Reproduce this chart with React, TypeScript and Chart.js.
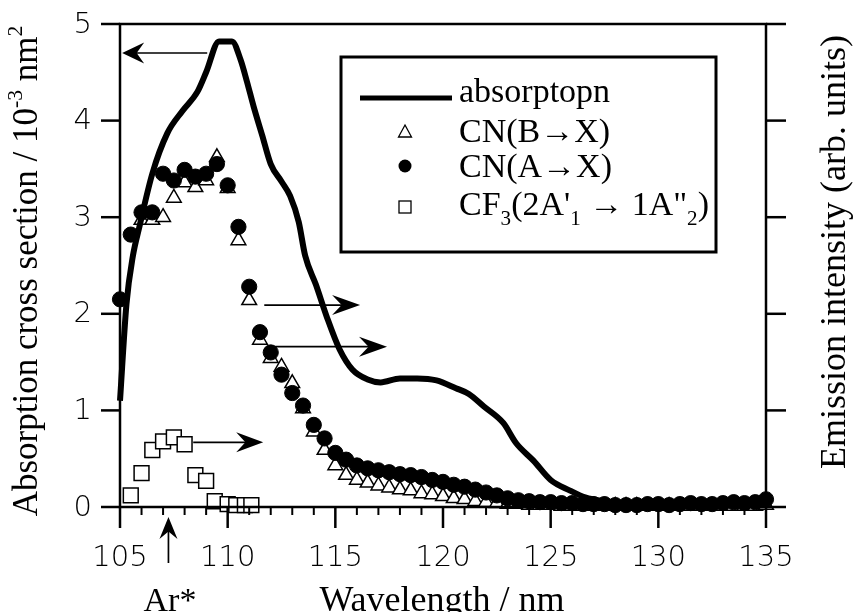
import React, { useEffect, useRef } from "react";
import { Chart, registerables } from "chart.js";

Chart.register(...registerables);

// ---------------- data ----------------
const absWavelength = [
  105.0, 105.3, 105.6, 105.9, 106.5, 107.2, 107.9, 108.6, 109.0, 109.6,
  110.2, 110.6, 110.9, 111.2, 111.6, 112.0, 112.5, 112.9, 113.3, 113.6,
  114.1, 114.6, 115.2, 115.8, 116.5, 117.1, 118.0, 118.8, 119.7, 120.6,
  121.2, 121.9, 122.8, 123.4, 124.2, 125.0, 125.9, 126.6, 127.5, 128.5,
  130.0, 132.0, 135.0,
];
const absCross = [
  1.1, 2.1, 2.6, 2.9, 3.45, 3.87, 4.1, 4.3, 4.5, 4.82,
  4.82, 4.63, 4.4, 4.15, 3.85, 3.55, 3.37, 3.22, 2.95, 2.6,
  2.3, 1.97, 1.63, 1.42, 1.32, 1.29, 1.33, 1.33, 1.31, 1.23,
  1.17, 1.04, 0.87, 0.66, 0.48, 0.28, 0.17, 0.1, 0.06, 0.04,
  0.03, 0.03, 0.04,
];

const cnAXWavelength = [
  105.0, 105.5, 106.0, 106.5, 107.0, 107.5, 108.0, 108.5, 109.0, 109.5,
  110.0, 110.5, 111.0, 111.5, 112.0, 112.5, 113.0, 113.5, 114.0, 114.5,
  115.0, 115.5, 116.0, 116.5, 117.0, 117.5, 118.0, 118.5, 119.0, 119.5,
  120.0, 120.5, 121.0, 121.5, 122.0, 122.5, 123.0, 123.5, 124.0, 124.5,
  125.0, 125.5, 126.0, 126.5, 127.0, 127.5, 128.0, 128.5, 129.0, 129.5,
  130.0, 130.5, 131.0, 131.5, 132.0, 132.5, 133.0, 133.5, 134.0, 134.5,
  135.0,
];
const cnAXIntensity = [
  2.15, 2.82, 3.05, 3.05, 3.45, 3.38, 3.49, 3.42, 3.45, 3.55,
  3.33, 2.9, 2.28, 1.81, 1.6, 1.37, 1.18, 1.05, 0.85, 0.71,
  0.56, 0.49, 0.43, 0.4, 0.38, 0.36, 0.34, 0.33, 0.31, 0.28,
  0.26, 0.23, 0.21, 0.18, 0.15, 0.12, 0.09, 0.07, 0.06, 0.05,
  0.05, 0.04, 0.04, 0.03, 0.03, 0.03, 0.02, 0.02, 0.02, 0.03,
  0.03, 0.02, 0.03, 0.04, 0.03, 0.03, 0.04, 0.05, 0.04, 0.05,
  0.08,
];

const cnBXWavelength = [
  106.0, 106.5, 107.0, 107.5, 108.0, 108.5, 109.0, 109.5,
  110.0, 110.5, 111.0, 111.5, 112.0, 112.5, 113.0, 113.5, 114.0, 114.5,
  115.0, 115.5, 116.0, 116.5, 117.0, 117.5, 118.0, 118.5, 119.0, 119.5,
  120.0, 120.5, 121.0, 121.5, 122.0, 122.5, 123.0, 123.5, 124.0, 124.5,
  125.0, 125.5, 126.0, 126.5, 127.0, 127.5, 128.0, 128.5, 129.0, 129.5,
  130.0, 130.5, 131.0, 131.5, 132.0, 132.5, 133.0, 133.5, 134.0, 134.5,
  135.0,
];
const cnBXIntensity = [
  2.97, 2.97, 3.0, 3.2, 3.36, 3.31, 3.38, 3.62,
  3.3, 2.76, 2.14, 1.73, 1.54, 1.45, 1.28, 1.02, 0.78, 0.59,
  0.43, 0.33, 0.28, 0.25, 0.22, 0.2, 0.18, 0.17, 0.14, 0.13,
  0.11, 0.09, 0.08, 0.06, 0.05, 0.04, 0.03, 0.03, 0.02, 0.02,
  0.02, 0.01, 0.01, 0.01, 0.01, 0.01, 0.01, 0.01, 0.01, 0.01,
  0.01, 0.01, 0.01, 0.01, 0.01, 0.01, 0.01, 0.01, 0.01, 0.01,
  0.02,
];

const cf3Wavelength = [
  105.5, 106.0, 106.5, 107.0, 107.5, 108.0, 108.5, 109.0, 109.4,
  110.0, 110.4, 110.8, 111.1,
];
const cf3Intensity = [
  0.12, 0.35, 0.59, 0.68, 0.72, 0.65, 0.33, 0.27, 0.06,
  0.03, 0.02, 0.02, 0.02,
];

const xTickValues = [105, 110, 115, 120, 125, 130, 135];
const yTickValues = [0, 1, 2, 3, 4, 5];

// arrows in data coordinates: [x1, y1, x2, y2]
const arrowAbsorption = [109.05, 4.7, 105.1, 4.7];
const arrowBX = [111.7, 2.09, 116.15, 2.09];
const arrowAX = [111.85, 1.66, 117.4, 1.66];
const arrowCF3 = [108.4, 0.67, 111.65, 0.67];
const arMarkerWavelength = 107.25;

const SERIF = '"Liberation Serif", "Times New Roman", serif';
const SANS = '"DejaVu Sans", sans-serif';

function toXY(xs: number[], ys: number[]) {
  return xs.map((x, i) => ({ x, y: ys[i] }));
}

function drawArrow(
  ctx: CanvasRenderingContext2D,
  x1: number, y1: number, x2: number, y2: number,
  len: number, hw: number
) {
  const ang = Math.atan2(y2 - y1, x2 - x1);
  ctx.save();
  ctx.lineWidth = 1.7;
  ctx.beginPath();
  ctx.moveTo(x1, y1);
  ctx.lineTo(x2 - Math.cos(ang) * len * 0.6, y2 - Math.sin(ang) * len * 0.6);
  ctx.stroke();
  ctx.translate(x2, y2);
  ctx.rotate(ang);
  ctx.beginPath();
  ctx.moveTo(0, 0);
  ctx.lineTo(-len, -hw);
  ctx.lineTo(-len * 0.66, 0);
  ctx.lineTo(-len, hw);
  ctx.closePath();
  ctx.fill();
  ctx.restore();
}

type Seg = { t: string; sub?: boolean; sup?: boolean };

function drawSegs(ctx: CanvasRenderingContext2D, segs: Seg[], x: number, y: number, size: number, center: boolean) {
  const small = size * 0.62;
  const widths = segs.map((s) => {
    ctx.font = `${s.sub || s.sup ? small : size}px ${SERIF}`;
    return ctx.measureText(s.t).width;
  });
  const total = widths.reduce((a, b) => a + b, 0);
  let cx = center ? x - total / 2 : x;
  ctx.textAlign = "left";
  ctx.textBaseline = "alphabetic";
  segs.forEach((s, i) => {
    ctx.font = `${s.sub || s.sup ? small : size}px ${SERIF}`;
    const dy = s.sub ? size * 0.3 : s.sup ? -size * 0.42 : 0;
    ctx.fillText(s.t, cx, y + dy);
    cx += widths[i];
  });
}

const overlayPlugin = {
  id: "overlay",
  afterDraw(chart: any) {
    const { ctx, chartArea: a, scales } = chart;
    const xs = scales.x;
    const ys = scales.y;
    ctx.save();
    ctx.strokeStyle = "#000";
    ctx.fillStyle = "#000";
    ctx.lineCap = "butt";

    const line = (x1: number, y1: number, x2: number, y2: number) => {
      ctx.beginPath();
      ctx.moveTo(x1, y1);
      ctx.lineTo(x2, y2);
      ctx.stroke();
    };

    // frame
    ctx.lineWidth = 2.5;
    ctx.strokeRect(a.left, a.top, a.right - a.left, a.bottom - a.top);

    // y ticks, both sides
    yTickValues.forEach((v) => {
      const py = ys.getPixelForValue(v);
      line(a.left - 19, py, a.left, py);
      line(a.right, py, a.right + 20, py);
    });
    // x ticks: major + minor (every 1 nm)
    for (let v = xs.min; v <= xs.max + 1e-9; v += 1) {
      const px = xs.getPixelForValue(v);
      const major = xTickValues.includes(Math.round(v));
      ctx.lineWidth = major ? 2.5 : 2;
      line(px, a.bottom, px, a.bottom + (major ? 21 : 8));
    }

    // tick labels
    ctx.font = `200 29px ${SANS}`;
    ctx.textAlign = "right";
    ctx.textBaseline = "middle";
    yTickValues.forEach((v) => {
      ctx.fillText(String(v), a.left - 28, ys.getPixelForValue(v) + 1);
    });
    ctx.textAlign = "center";
    xTickValues.forEach((v) => {
      ctx.fillText(String(v), xs.getPixelForValue(v), a.bottom + 51);
    });

    // axis titles
    ctx.save();
    ctx.translate(37, 271);
    ctx.rotate(-Math.PI / 2);
    drawSegs(ctx, [
      { t: "Absorption cross section / 10" },
      { t: "-3", sup: true },
      { t: " nm" },
      { t: "2", sup: true },
    ], 0, 0, 35, true);
    ctx.restore();

    ctx.save();
    ctx.translate(845, 252);
    ctx.rotate(-Math.PI / 2);
    drawSegs(ctx, [{ t: "Emission intensity (arb. units)" }], 0, 0, 36, true);
    ctx.restore();

    drawSegs(ctx, [{ t: "Wavelength / nm" }], 442, 611, 36, true);
    drawSegs(ctx, [{ t: "Ar*" }], 170, 611, 34, true);

    // Ar* marker arrow below axis
    const arX = xs.getPixelForValue(arMarkerWavelength);
    drawArrow(ctx, arX, a.bottom + 56, arX, a.bottom + 10, 22, 9);

    // data arrows
    const arr = (d: number[], len: number, hw: number) =>
      drawArrow(ctx, xs.getPixelForValue(d[0]), ys.getPixelForValue(d[1]),
        xs.getPixelForValue(d[2]), ys.getPixelForValue(d[3]), len, hw);
    arr(arrowAbsorption, 22, 10.5);
    arr(arrowBX, 28, 10);
    arr(arrowAX, 28, 10);
    arr(arrowCF3, 27, 10);

    // legend box
    const L = { x: 341, y: 57, w: 375, h: 195 };
    ctx.fillStyle = "#fff";
    ctx.fillRect(L.x, L.y, L.w, L.h);
    ctx.fillStyle = "#000";
    ctx.lineWidth = 3;
    ctx.strokeRect(L.x, L.y, L.w, L.h);

    ctx.lineWidth = 5;
    line(360, 98, 452, 98);
    // triangle symbol
    ctx.lineWidth = 1.3;
    ctx.beginPath();
    ctx.moveTo(405, 125);
    ctx.lineTo(411.5, 137);
    ctx.lineTo(398.5, 137);
    ctx.closePath();
    ctx.stroke();
    // circle symbol
    ctx.beginPath();
    ctx.arc(405, 166, 6.5, 0, Math.PI * 2);
    ctx.fill();
    // square symbol
    ctx.strokeRect(399, 201, 12, 12);

    const tx = 459;
    drawSegs(ctx, [{ t: "absorptopn" }], tx, 102, 34, false);
    drawSegs(ctx, [{ t: "CN(B\u2192X)" }], tx, 142, 34, false);
    drawSegs(ctx, [{ t: "CN(A\u2192X)" }], tx, 177, 34, false);
    drawSegs(ctx, [
      { t: "CF" },
      { t: "3", sub: true },
      { t: "(2A'" },
      { t: "1", sub: true },
      { t: " \u2192 1A\"" },
      { t: "2", sub: true },
      { t: ")" },
    ], tx, 215, 34, false);

    ctx.restore();
  },
};

export default function App() {
  const ref = useRef<HTMLCanvasElement | null>(null);

  useEffect(() => {
    if (!ref.current) return;
    const chart = new Chart(ref.current, {
      type: "scatter",
      data: {
        datasets: [
          {
            label: "absorptopn",
            data: toXY(absWavelength, absCross),
            showLine: true,
            borderColor: "#000",
            borderWidth: 6,
            pointRadius: 0,
            cubicInterpolationMode: "monotone",
            borderJoinStyle: "round",
            clip: false,
            order: 0,
          } as any,
          {
            label: "CN(A→X)",
            data: toXY(cnAXWavelength, cnAXIntensity),
            pointStyle: "circle",
            pointRadius: 7.6,
            backgroundColor: "#000",
            borderColor: "#000",
            borderWidth: 1,
            clip: false,
            order: 1,
          } as any,
          {
            label: "CN(B→X)",
            data: toXY(cnBXWavelength, cnBXIntensity),
            pointStyle: "triangle",
            pointRadius: 8.5,
            backgroundColor: "#fff",
            borderColor: "#000",
            borderWidth: 1.5,
            clip: false,
            order: 2,
          } as any,
          {
            label: "CF3(2A'1 → 1A\"2)",
            data: toXY(cf3Wavelength, cf3Intensity),
            pointStyle: "rect",
            pointRadius: 10.5,
            backgroundColor: "#fff",
            borderColor: "#000",
            borderWidth: 1.5,
            clip: false,
            order: 3,
          } as any,
        ],
      },
      options: {
        animation: false,
        responsive: false,
        layout: { padding: { left: 120, right: 87, top: 24, bottom: 105 } },
        scales: {
          x: { type: "linear", min: 105, max: 135, display: false },
          y: { type: "linear", min: 0, max: 5, display: false },
        },
        plugins: {
          legend: { display: false },
          tooltip: { enabled: false },
        },
      },
      plugins: [overlayPlugin],
    });
    return () => chart.destroy();
  }, []);

  return (
    <div style={{ position: "absolute", left: 0, top: 0, width: 853, height: 612, background: "#fff" }}>
      <canvas ref={ref} width={853} height={612} style={{ display: "block", width: 853, height: 612 }} />
    </div>
  );
}
